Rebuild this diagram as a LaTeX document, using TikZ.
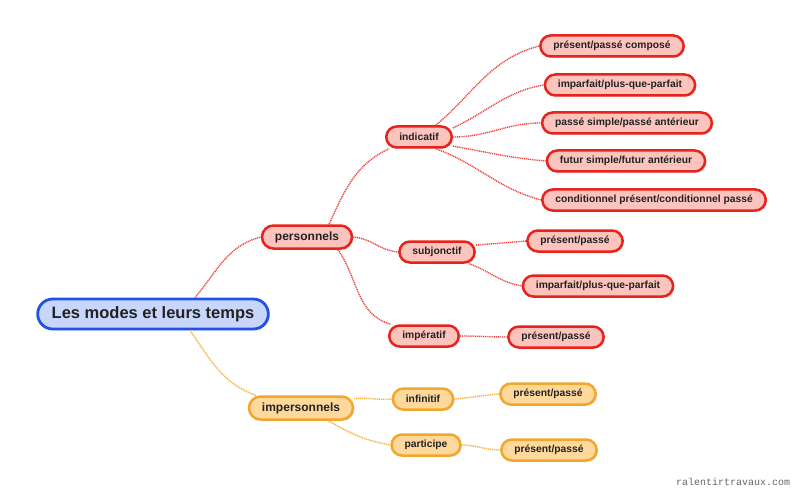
\documentclass[tikz,border=0pt]{standalone}
\usepackage{fontspec}
\setmainfont{Liberation Sans}
\newfontfamily\markfont{Liberation Mono}
\usepackage{tikz}
\usetikzlibrary{shadows}
\definecolor{rootline}{HTML}{2152E3}
\definecolor{rootfill}{HTML}{C9D6FB}
\definecolor{persline}{HTML}{E8231C}
\definecolor{persfill}{HTML}{FDC3BD}
\definecolor{impline}{HTML}{F3A62C}
\definecolor{impfill}{HTML}{FFD89B}
\definecolor{txt}{HTML}{222222}

\begin{document}
\begin{tikzpicture}[x=1pt,y=-1pt,
    box/.style={rectangle,text=txt,font=\bfseries\fontsize{10.3}{12}\selectfont,
      minimum height=21pt,inner xsep=13pt,inner ysep=0pt,rounded corners=10.5pt,
      line width=2.5pt,drop shadow={opacity=0.2,shadow xshift=1.5pt,shadow yshift=-1.5pt}},
    rouge/.style={box,draw=persline,fill=persfill},
    jaune/.style={box,draw=impline,fill=impfill},
    gros/.style={font=\bfseries\fontsize{12}{14}\selectfont,minimum height=23pt,
      inner xsep=13pt,rounded corners=11.5pt},
    lienr/.style={persline!85,line width=1.4pt,dash pattern=on 1.1pt off 0.8pt},
    lienj/.style={impline!90,line width=1.4pt,dash pattern=on 1.1pt off 0.8pt}]
    \useasboundingbox (0,0) rectangle (800,497);
    % racine
    \node[box,draw=rootline,fill=rootfill,font=\bfseries\fontsize{16.5}{19}\selectfont,
      minimum height=30pt,inner xsep=14pt,rounded corners=15pt,line width=2.8pt]
      (modes) at (153,314) {Les modes et leurs temps};
    \node[rouge,gros] (pers) at (307,237) {personnels};
    \node[jaune,gros] (impers) at (301,408) {impersonnels};
    % modes personnels
    \node[rouge] (ind) at (419,137) {indicatif};
    \node[rouge] (subj) at (437,252) {subjonctif};
    \node[rouge] (imper) at (424,336) {impératif};
    \node[rouge] (ind1) at (612,46) {présent/passé composé};
    \node[rouge] (ind2) at (620,85) {imparfait/plus-que-parfait};
    \node[rouge] (ind3) at (627,123) {passé simple/passé antérieur};
    \node[rouge] (ind4) at (626,161) {futur simple/futur antérieur};
    \node[rouge] (ind5) at (654,200) {conditionnel présent/conditionnel passé};
    \node[rouge] (subj1) at (575,241) {présent/passé};
    \node[rouge] (subj2) at (598,286) {imparfait/plus-que-parfait};
    \node[rouge] (imper1) at (556,337) {présent/passé};
    % modes impersonnels
    \node[jaune] (inf) at (423,399) {infinitif};
    \node[jaune] (part) at (426,445) {participe};
    \node[jaune] (inf1) at (548,394) {présent/passé};
    \node[jaune] (part1) at (549,450) {présent/passé};
    \node[text=black!60,font=\markfont\fontsize{10}{12}\selectfont] (site) at (733,482) {ralentirtravaux.com};
    % liens
    \draw[lienr] ([xshift=42pt]modes.north) to[out=50,in=195] (pers.west);
    \draw[lienj] ([xshift=37pt]modes.south) to[out=-55,in=160] ([xshift=8pt]impers.north west);
    \draw[lienr] ([xshift=22pt]pers.north) to[out=65,in=205] ([xshift=4pt]ind.south west);
    \draw[lienr] (pers.east) to[out=-5,in=175] (subj.west);
    \draw[lienr] ([xshift=31pt]pers.south) to[out=-55,in=165] ([xshift=3pt]imper.north west);
    \draw[lienr] (ind.35) to[out=40,in=195] (ind1.west);
    \draw[lienr] (ind.15) to[out=25,in=190] (ind2.west);
    \draw[lienr] (ind.east) to[out=0,in=180] (ind3.west);
    \draw[lienr] (ind.-15) to[out=-10,in=175] (ind4.west);
    \draw[lienr] (ind.-35) to[out=-20,in=165] (ind5.west);
    \draw[lienr] (subj.10) to[out=5,in=185] (subj1.west);
    \draw[lienr] (subj.-20) to[out=-20,in=170] (subj2.west);
    \draw[lienr] (imper.east) to[out=0,in=180] (imper1.west);
    \draw[lienj] (impers.10) to[out=5,in=185] (inf.west);
    \draw[lienj] (impers.-25) to[out=-30,in=170] (part.west);
    \draw[lienj] (inf.east) to[out=5,in=185] (inf1.west);
    \draw[lienj] (part.east) to[out=0,in=180] (part1.west);
\end{tikzpicture}
\end{document}
